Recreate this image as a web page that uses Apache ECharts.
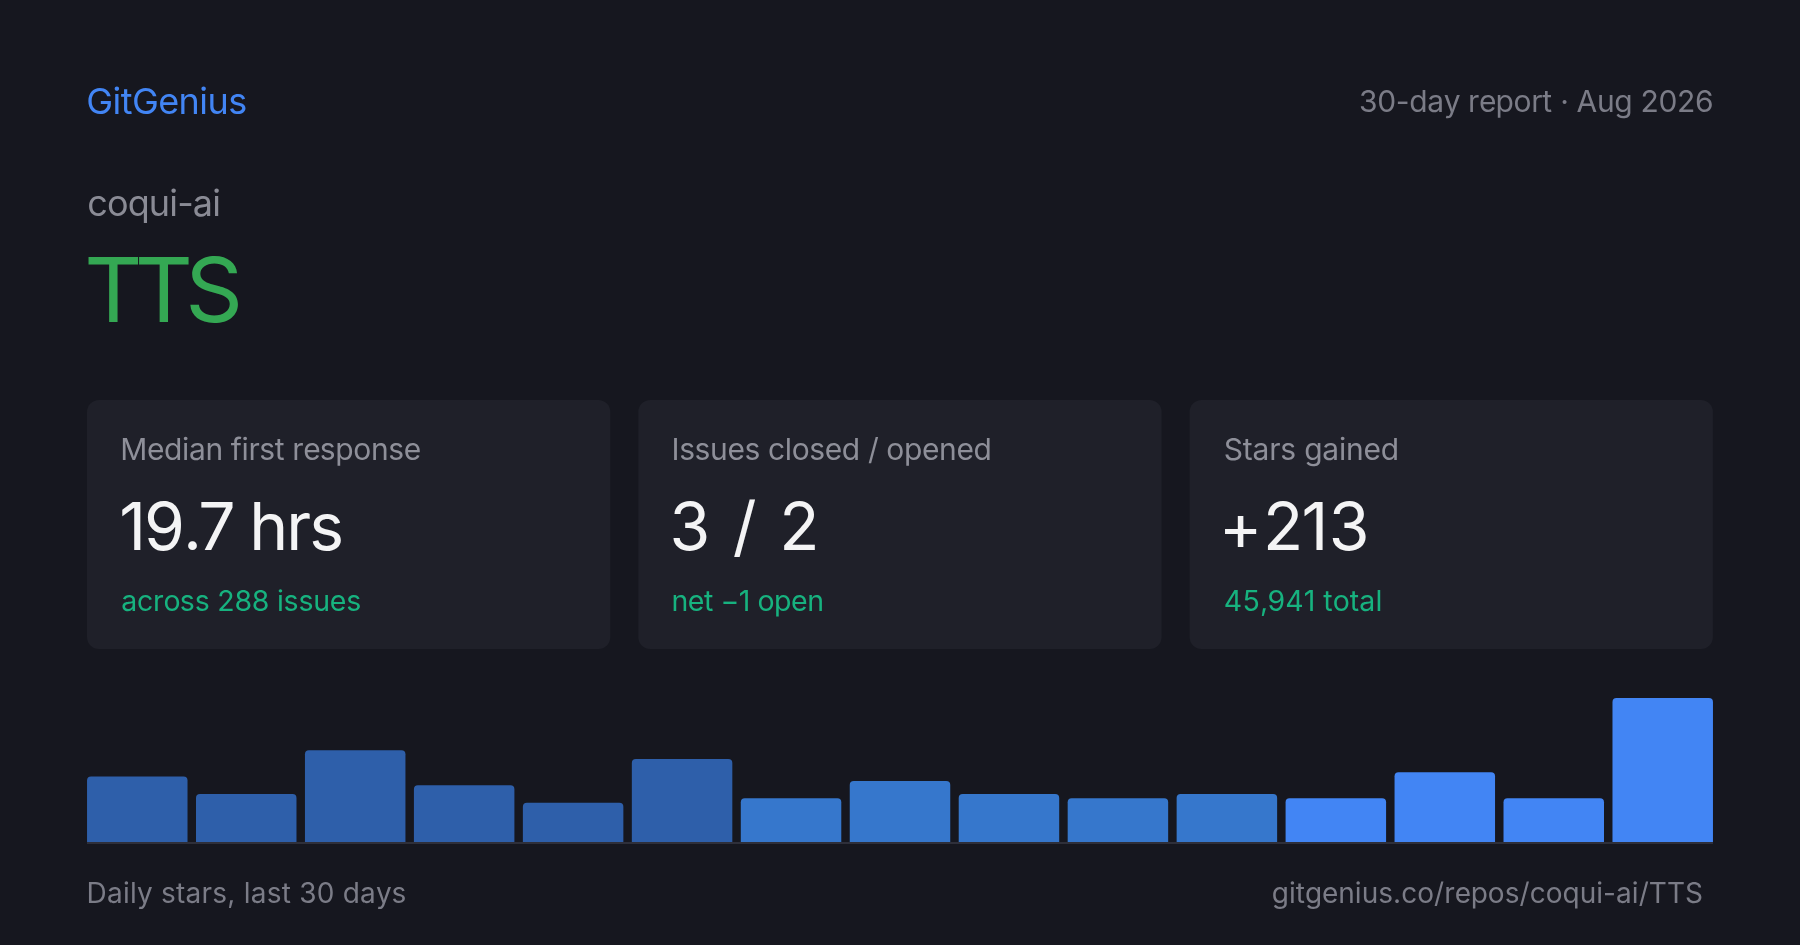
<!DOCTYPE html>
<html>
<head>
<meta charset="utf-8">
<script src="https://cdn.jsdelivr.net/npm/echarts@6/dist/echarts.min.js"></script>
<style>
html,body{margin:0;padding:0;background:#16171f;}
#chart{width:1800px;height:945px;}
</style>
</head>
<body>
<div id="chart"></div>
<script>
// ---- data ----
const brand = 'GitGenius';
const reportLabel = '30-day report · Aug 2026';
const owner = 'coqui-ai';
const repo = 'TTS';
const cardTitles = ['Median first response', 'Issues closed / opened', 'Stars gained'];
const cardValues = ['19.7 hrs', '3 / 2', '+213'];
const cardNotes = ['across 288 issues', 'net \u22121 open', '45,941 total'];
const periods = ['P1','P2','P3','P4','P5','P6','P7','P8','P9','P10','P11','P12','P13','P14','P15'];
const dailyStars = [15, 11, 21, 13, 9, 19, 10, 14, 11, 10, 11, 10, 16, 10, 33];
const footerLeft = 'Daily stars, last 30 days';
const footerRight = 'gitgenius.co/repos/coqui-ai/TTS';

// ---- layout / style ----
const FONT = 'Inter, "Noto Sans", sans-serif';
const BG = '#16171f';
const CARD = '#1f2029';
const mctx = document.createElement('canvas').getContext('2d');

// text laid out glyph by glyph so its ink spans the given width (tight tracking)
function spaced(text, left, yMid, size, fill, inkW) {
  const font = size + 'px ' + FONT;
  mctx.font = font;
  const m = mctx.measureText(text);
  const ink = m.actualBoundingBoxLeft + m.actualBoundingBoxRight;
  const n = text.length;
  const sp = n > 1 ? (inkW - ink) / (n - 1) : 0;
  const x0 = left + m.actualBoundingBoxLeft;
  const children = [];
  for (let i = 0; i < n; i++) {
    const ch = text[i];
    if (ch === ' ') continue;
    const xi = x0 + mctx.measureText(text.slice(0, i)).width + i * sp;
    children.push({
      type: 'text', z: 10,
      style: { text: ch, x: xi, y: yMid, font: font, fill: fill, textAlign: 'left', textVerticalAlign: 'middle' }
    });
  }
  return { type: 'group', z: 10, children: children };
}

const graphics = [];
graphics.push(spaced(brand, 88.2, 103.3, 36, '#4285f4', 158));
graphics.push(spaced(reportLabel, 1712 - 352, 102.7, 30, '#7b7c87', 352));
graphics.push(spaced(owner, 88.2, 205.4, 36, '#8a8b95', 131));
graphics.push(spaced(repo, 88.2, 294.6, 90, '#34a853', 150));

const cardW = 523.3, cardGap = 28, cardX0 = 87, cardY = 400, cardH = 249;
const titleW = [298.5, 317, 173];
const valueW = [219, 141.7, 141];
const noteW = [238, 148.7, 155.7];
for (let i = 0; i < cardTitles.length; i++) {
  const cx = cardX0 + i * (cardW + cardGap);
  graphics.push({ type: 'rect', z: 1, shape: { x: cx, y: cardY, width: cardW, height: cardH, r: 12 }, style: { fill: CARD } });
  graphics.push(spaced(cardTitles[i], cx + 35.2, 451.3, 30, '#8e8f99', titleW[i]));
  graphics.push(spaced(cardValues[i], cx + 35.2, 530, 66, '#f4f4f5', valueW[i]));
  graphics.push(spaced(cardNotes[i], cx + 35.2, 602.6, 28.5, '#17b27f', noteW[i]));
}
graphics.push({ type: 'rect', z: 5, shape: { x: 87, y: 842, width: 1626, height: 2 }, style: { fill: '#2e2f3a' } });
graphics.push(spaced(footerLeft, 88.5, 894.8, 28, '#7b7c87', 317));
graphics.push(spaced(footerRight, 1702 - 429.3, 894.8, 28, '#7b7c87', 429.3));

const chart = echarts.init(document.getElementById('chart'), null, { renderer: 'canvas', width: 1800, height: 945 });
chart.setOption({
  backgroundColor: BG,
  animation: false,
  grid: { left: 82.8, right: 82.8, top: 698, bottom: 103, containLabel: false },
  xAxis: {
    type: 'category', data: periods,
    axisLine: { show: false }, axisTick: { show: false }, axisLabel: { show: false }, splitLine: { show: false }
  },
  yAxis: {
    type: 'value', min: 0, max: 33,
    axisLine: { show: false }, axisTick: { show: false }, axisLabel: { show: false }, splitLine: { show: false }
  },
  series: [{
    type: 'bar',
    data: dailyStars,
    barCategoryGap: '7.77%',
    itemStyle: {
      borderRadius: [4, 4, 0, 0],
      color: function (p) {
        if (p.dataIndex < 6) return '#2e5faa';
        if (p.dataIndex < 11) return '#3677cc';
        return '#4285f4';
      }
    }
  }],
  graphic: graphics
});
</script>
</body>
</html>
